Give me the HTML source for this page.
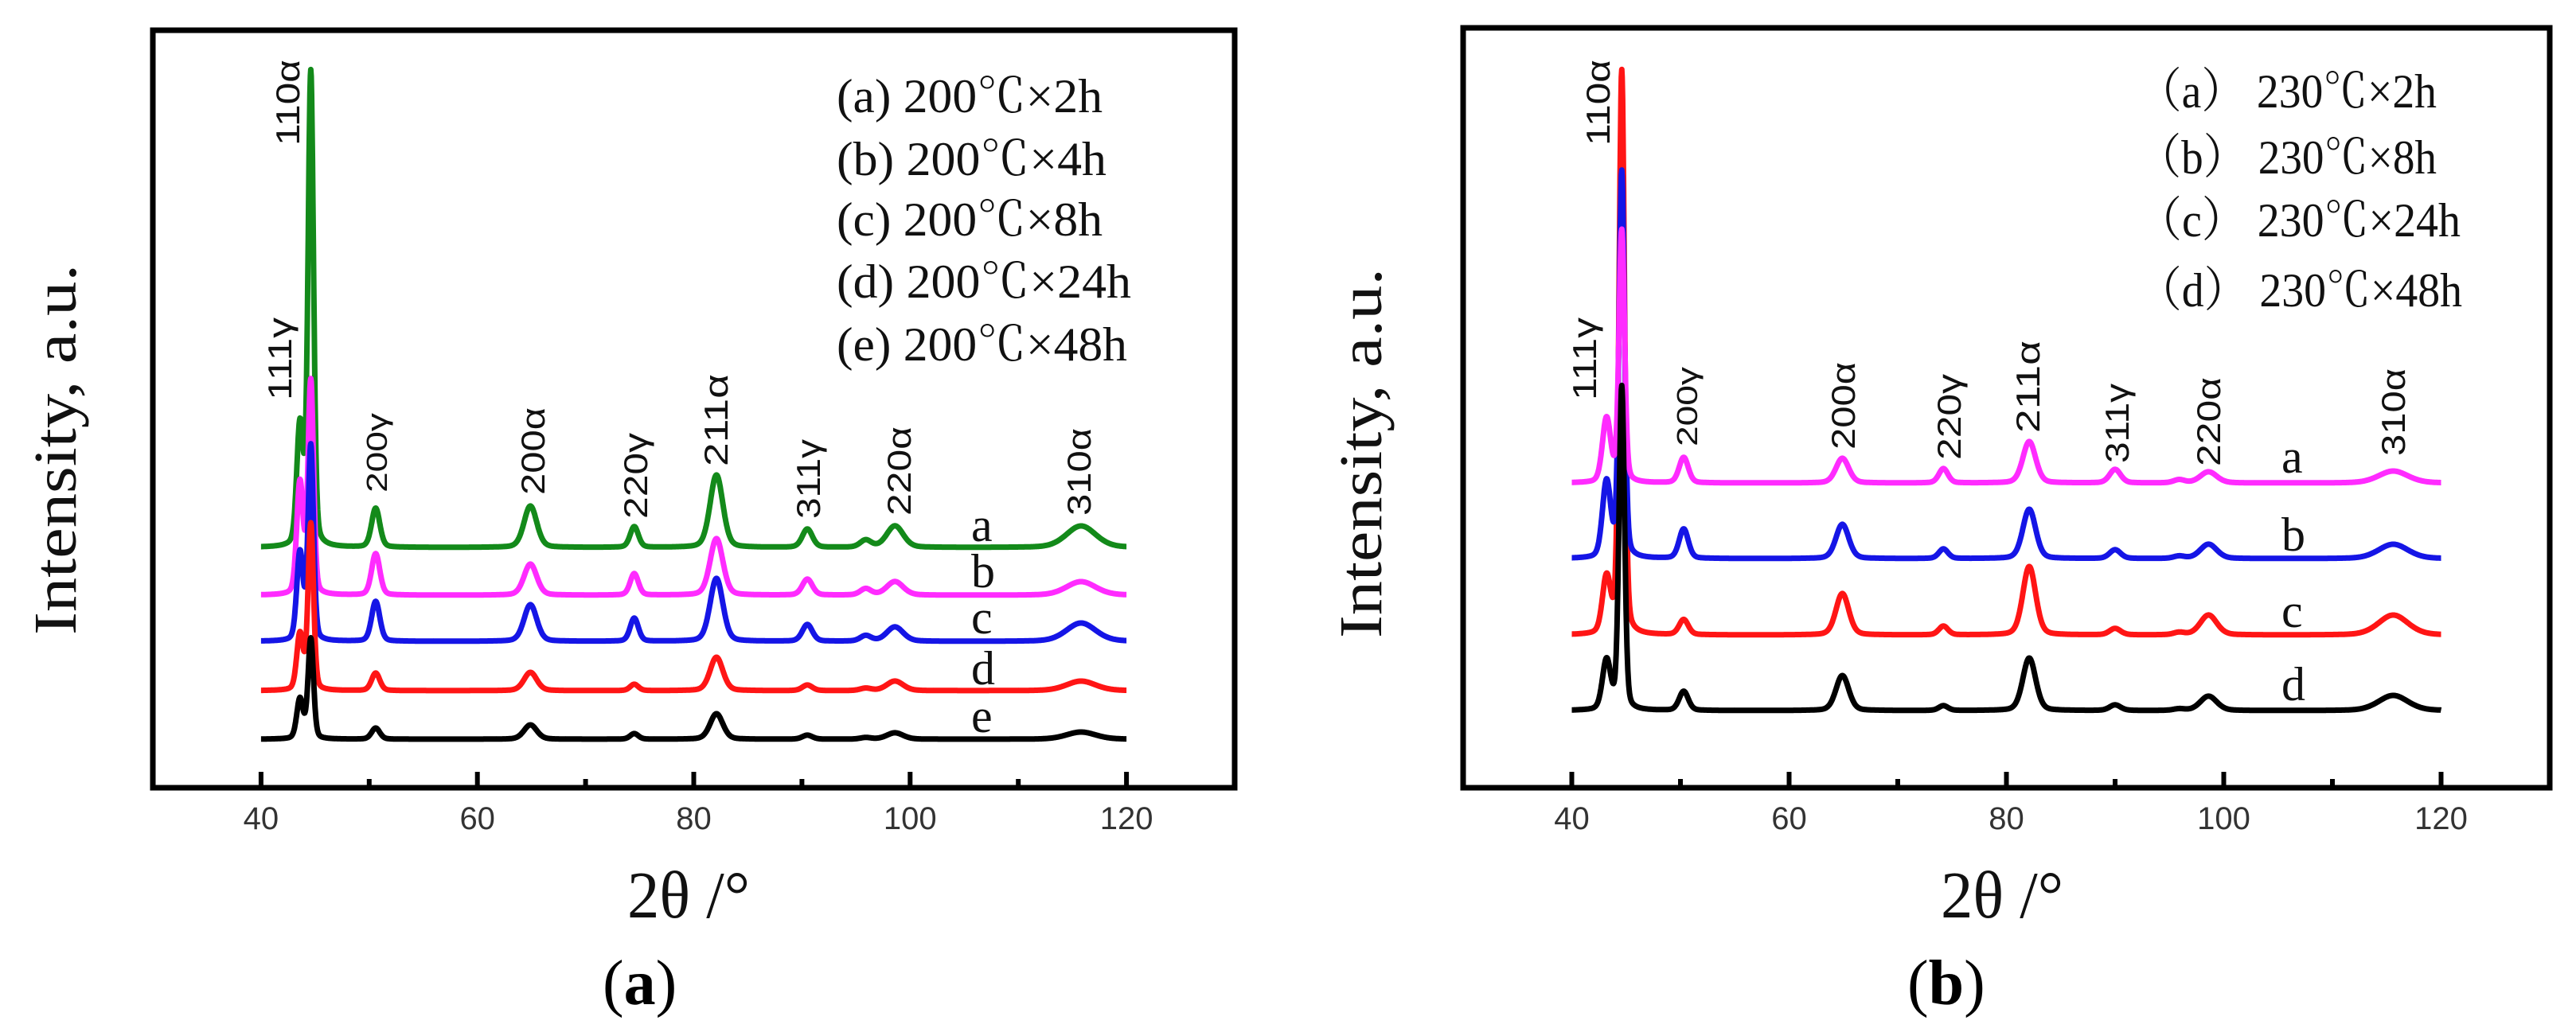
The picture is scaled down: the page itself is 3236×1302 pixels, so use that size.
<!DOCTYPE html>
<html><head><meta charset="utf-8"><style>
html,body{margin:0;padding:0;background:#fff;}
svg{display:block;}
.serif{font-family:"Liberation Serif","Noto Serif CJK SC",serif;}
.sans{font-family:"Liberation Sans","Noto Sans CJK SC",sans-serif;}
</style></head><body>
<svg id="fig" width="3236" height="1302" viewBox="0 0 3236 1302" xmlns="http://www.w3.org/2000/svg"></svg>
<script>
// ---- shared data ----
const xTicks = [40, 60, 80, 100, 120];
const xMinorTicks = [50, 70, 90, 110];
// ---- panel (a) data ----
const posA = [43.6, 44.6, 50.6, 64.9, 74.5, 82.1, 90.5, 95.9, 98.6, 115.8];
const hwA  = [0.35, 0.3, 0.45, 0.7, 0.45, 0.7, 0.55, 0.6, 0.9, 1.6];
const namesA = ["a","b","c","d","e"];
const legendA = ["(a) 200℃×2h","(b) 200℃×4h","(c) 200℃×8h","(d) 200℃×24h","(e) 200℃×48h"];
const offsetsA = [302, 242, 184, 122, 61];
const ampA_a = [150, 596, 49, 52, 26, 91, 23, 9, 27, 27];
const ampA_b = [140, 268, 52, 39, 27, 71, 20, 8, 17, 17];
const ampA_c = [110, 245, 50, 46, 29, 79, 21, 7, 18, 23];
const ampA_d = [70, 209, 22, 23, 8, 42, 7, 3, 12, 12];
const ampA_e = [50, 126, 14, 18, 7, 32, 5, 2, 8, 9];
// ---- panel (b) data ----
const posB = [43.2, 44.6, 50.3, 64.9, 74.2, 82.1, 90.0, 95.9, 98.6, 115.6];
const hwB  = [0.45, 0.3, 0.5, 0.7, 0.5, 0.7, 0.6, 0.6, 0.9, 1.6];
const namesB = ["a","b","c","d"];
const legendB = ["（a） 230℃×2h","（b） 230℃×8h","（c） 230℃×24h","（d） 230℃×48h"];
const offsetsB = [383, 288, 192, 97];
const ampB_a = [80, 317, 32, 31, 18, 52, 17, 4, 14, 15];
const ampB_b = [95, 486, 37, 43, 12, 62, 11, 3, 18, 18];
const ampB_c = [70, 709, 19, 52, 11, 86, 8, 3, 25, 25];
const ampB_d = [62, 407, 24, 44, 6, 66, 7, 2, 18, 19];

const NS = "http://www.w3.org/2000/svg";
const svg = document.getElementById('fig');
function mk(tag, attrs, parent, text){
  const e = document.createElementNS(NS, tag);
  for (const k in attrs) e.setAttribute(k, attrs[k]);
  if (text !== undefined) e.textContent = text;
  (parent || svg).appendChild(e);
  return e;
}
function profile(x, pos, hw, amp){
  let v = 0;
  for (let i = 0; i < pos.length; i++){
    const d = (x - pos[i]) / hw[i];
    v += amp[i] * (0.75 * Math.exp(-0.693 * d * d) + 0.25 / (1 + d * d));
  }
  return v;
}

function panel(cfg){
  const g = mk('g', {});
  
  
  const xs = v => cfg.L + (v - 30) / 100 * (cfg.R - cfg.L);
  const ys = v => cfg.B - v / cfg.yMax * (cfg.B - cfg.T);
  cfg.order.forEach(si => {
    let pts = [];
    for (let x = 40; x <= 120.001; x += 0.04){
      const v = cfg.offsets[si] + profile(x, cfg.pos, cfg.hw, cfg.amps[si]);
      pts.push(xs(x).toFixed(1) + ',' + ys(v).toFixed(1));
    }
    const pl = mk('polyline', {points: pts.join(' '), fill:'none', stroke:cfg.colors[si], 'stroke-width':7, 'stroke-linejoin':'round'}, g);
    
    
  });
  const fr = mk('rect', {x:cfg.L, y:cfg.T, width:cfg.R-cfg.L, height:cfg.B-cfg.T, fill:'none', stroke:'#000', 'stroke-width':7}, g);
  
  
  xTicks.forEach(t => {
    const tk = mk('line', {x1:xs(t), x2:xs(t), y1:cfg.B, y2:cfg.B-20, stroke:'#000', 'stroke-width':6}, g);
    
    
    const tl = mk('text', {x:xs(t), y:cfg.B+52, 'text-anchor':'middle', 'font-size':40, fill:'#333', class:'sans'}, g, String(t));
    
    
  });
  xMinorTicks.forEach(t => {
    const tk = mk('line', {x1:xs(t), x2:xs(t), y1:cfg.B, y2:cfg.B-11, stroke:'#000', 'stroke-width':6}, g);
    
    
  });
  cfg.peakLabels.forEach(p => {
    const t = mk('text', {transform:`translate(${p[1]},${p[2]}) rotate(-90)`, 'font-size':p[4]||42, class:'sans', fill:'#111', textLength:p[3], lengthAdjust:'spacingAndGlyphs'}, g, p[0]);
    
    
  });
  cfg.letters.forEach((l, i) => {
    const t = mk('text', {x:cfg.letterX, y:l, 'font-size':60, class:'serif', fill:'#111'}, g, cfg.names[i]);
    
    
  });
  cfg.legend.forEach((s, i) => {
    const t = mk('text', {x:cfg.legX, y:cfg.legY[i], 'font-size':60, class:'serif', fill:'#111', textLength:cfg.legW[i], lengthAdjust:'spacingAndGlyphs'}, g, s);
    
    
  });
  const yt = mk('text', {transform:`translate(${cfg.ytX},${cfg.ytB}) rotate(-90)`, 'font-size':76, class:'serif', fill:'#111', textLength:cfg.ytLen, lengthAdjust:'spacingAndGlyphs'}, g, 'Intensity, a.u.');
  
  
  const xt = mk('text', {x:cfg.xtX, y:1153, 'font-size':84, class:'serif', fill:'#111', textLength:154, lengthAdjust:'spacingAndGlyphs'}, g, '2θ /°');
  
  
  const cap = mk('text', {x:cfg.capX, y:1262, 'font-size':80, class:'serif', fill:'#000'}, g);
  
  
  mk('tspan', {}, cap, '(');
  mk('tspan', {'font-weight':'bold'}, cap, cfg.capLetter);
  mk('tspan', {}, cap, ')');
}

panel({
  id:'panel-a', L:192, R:1551, T:38, B:990, yMax:952,
  pos:posA, hw:hwA, offsets:offsetsA, amps:[ampA_a, ampA_b, ampA_c, ampA_d, ampA_e],
  names:namesA, colors:['#138a1a','#ff2bff','#1515e6','#ff1515','#000'], order:[0,1,2,3,4],
  peakLabels:[["110α",376,183,108],["111γ",366,503,104],["200γ",486,619,100,36],["200α",684,622,110],["220γ",813,652,108],["211α",914,586,116],["311γ",1030,652,100],["220α",1144,648,112],["310α",1370,648,110]],
  letterX:1220, letters:[680,738,796,860,920],
  legend:legendA, legX:1051, legY:[141,220,296,374,453], legW:[334,339,334,370,365],
  ytX:95, ytB:798, ytLen:466, xtX:788, capX:757, capLetter:'a'
});
panel({
  id:'panel-b', L:1838, R:3203, T:35, B:990, yMax:955,
  pos:posB, hw:hwB, offsets:offsetsB, amps:[ampB_a, ampB_b, ampB_c, ampB_d],
  names:namesB, colors:['#ff2bff','#1515e6','#ff1515','#000'], order:[2,1,0,3],
  peakLabels:[["110α",2022,183,108],["111γ",2005,503,104],["200γ",2132,561,100,36],["200α",2330,565,110],["220γ",2463,578,108],["211α",2562,544,116],["311γ",2674,582,100],["220α",2789,586,112],["310α",3021,573,110]],
  letterX:2866, letters:[594,692,788,880],
  legend:legendB, legX:2685, legY:[135,218,297,385], legW:[376,376,406,408],
  ytX:1735, ytB:802, ytLen:465, xtX:2438, capX:2396, capLetter:'b'
});
</script>
</body></html>
